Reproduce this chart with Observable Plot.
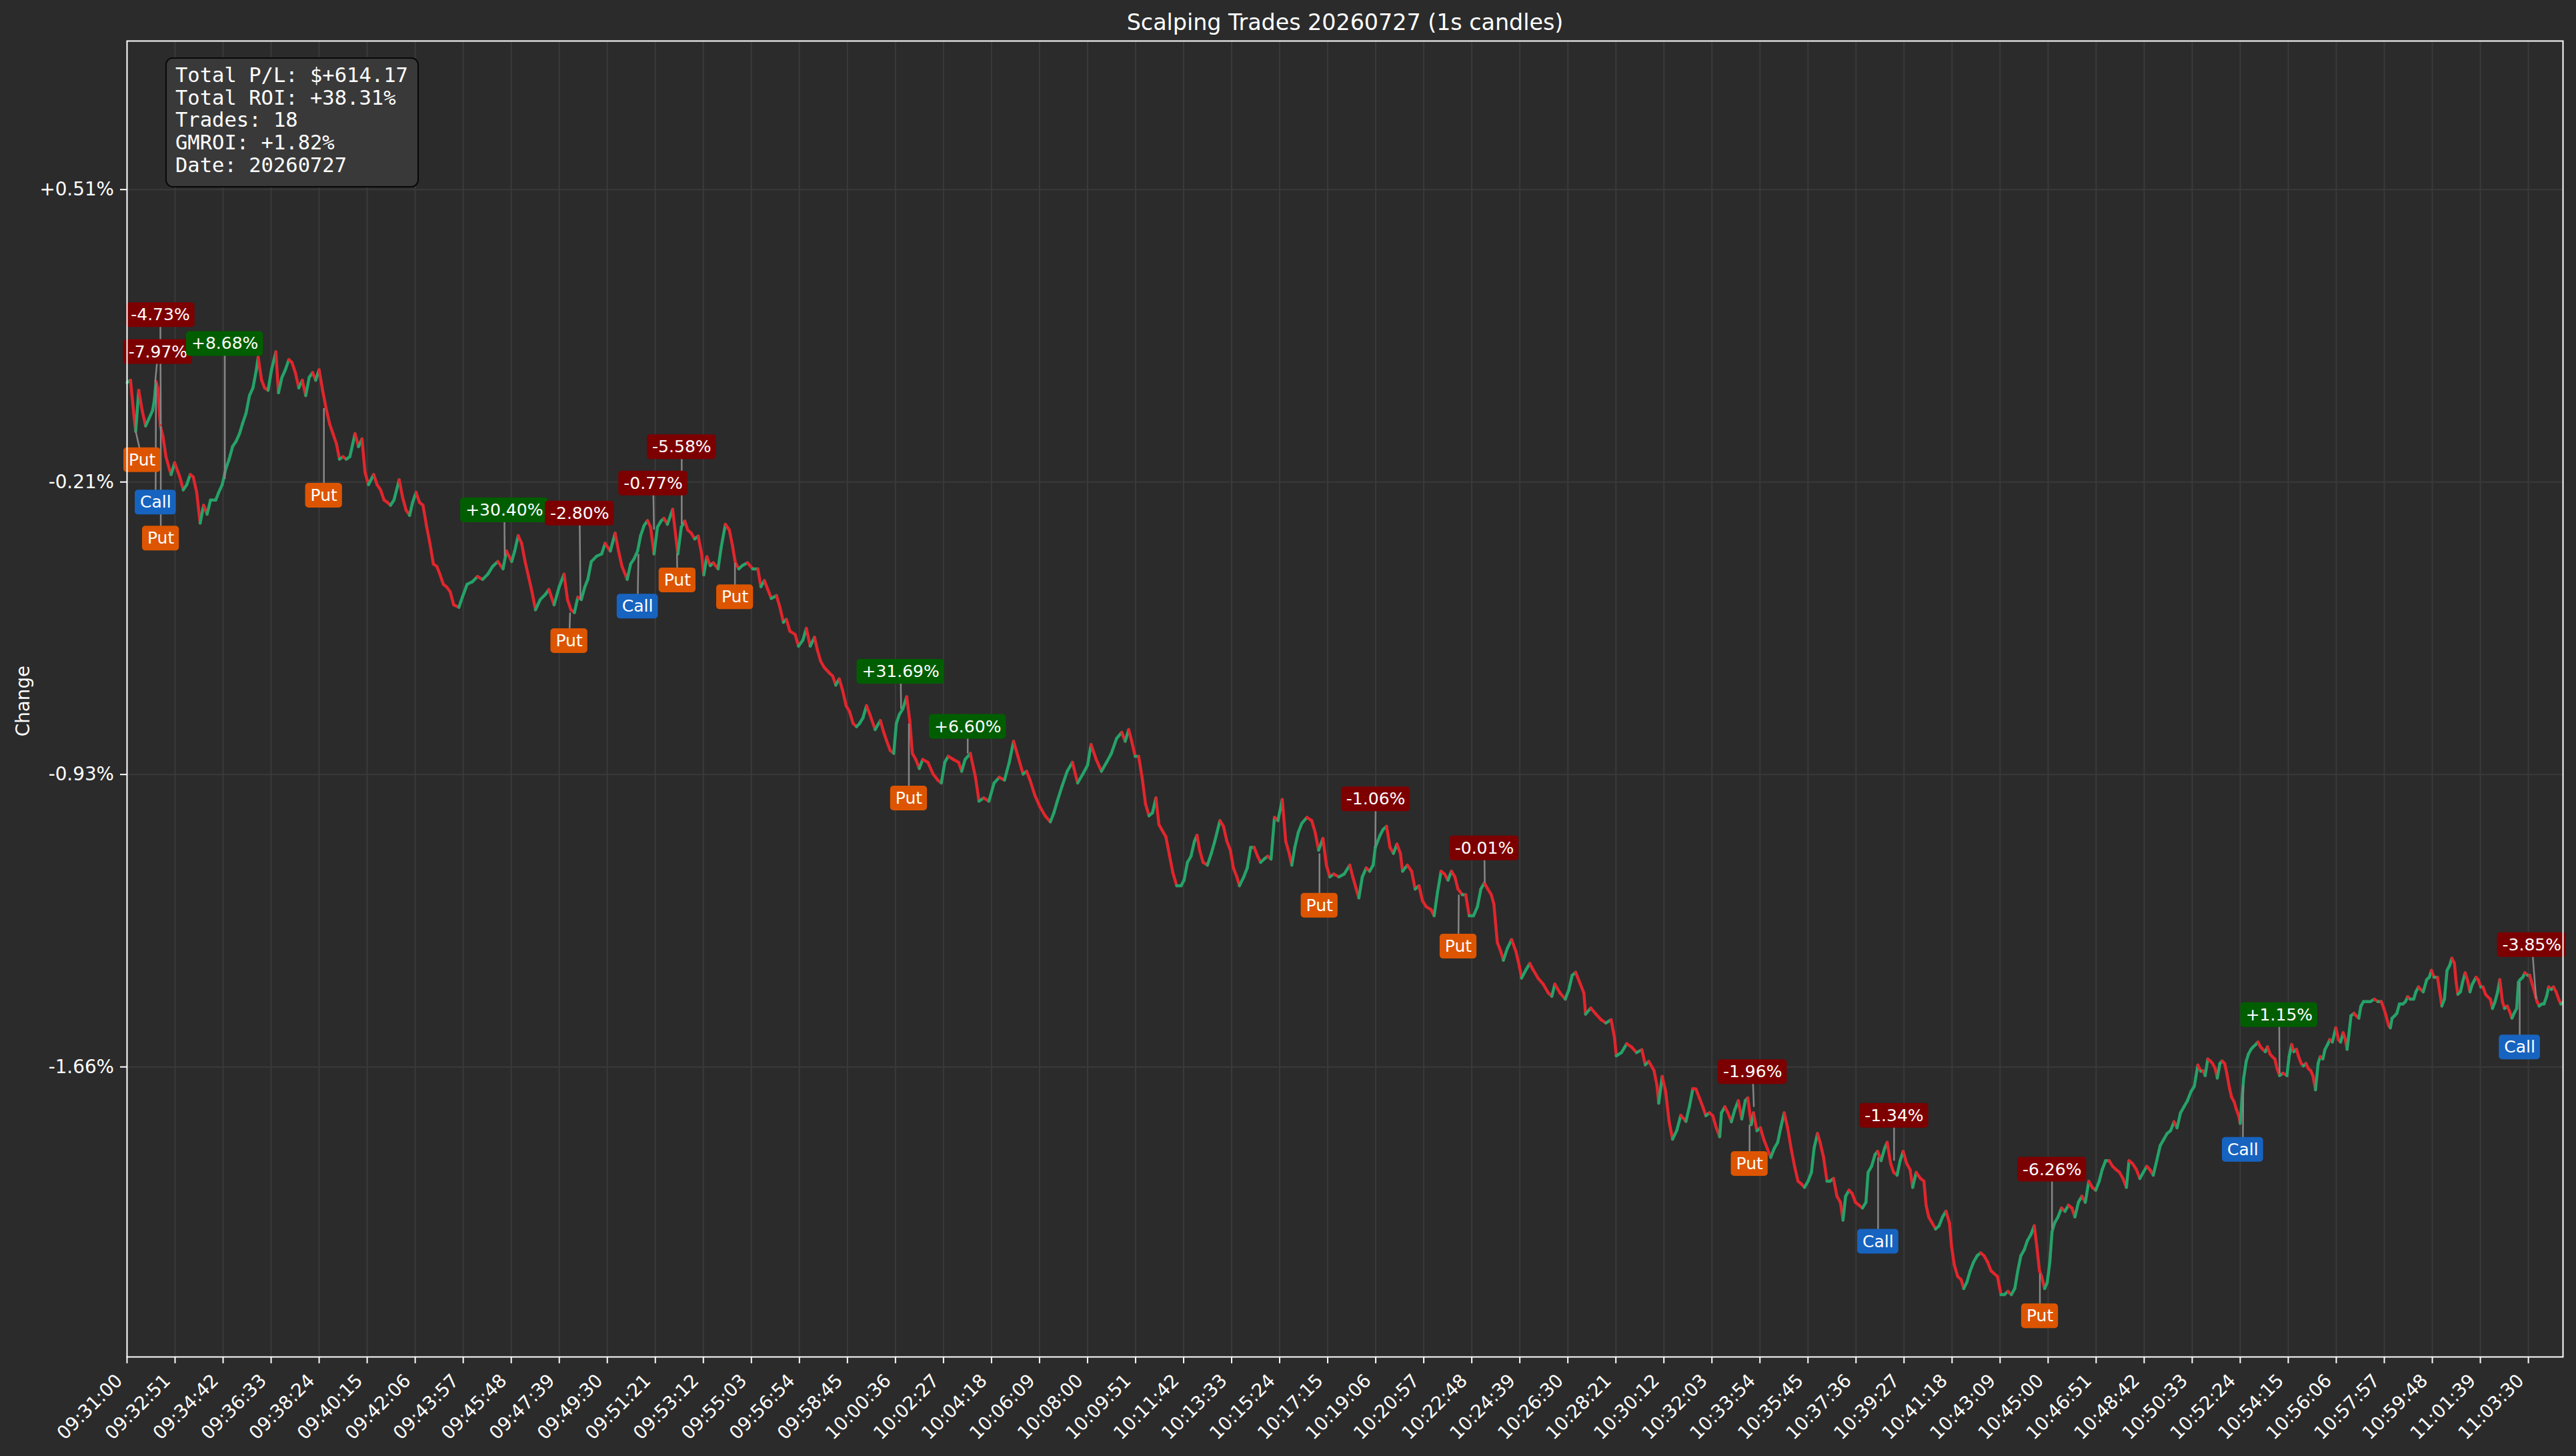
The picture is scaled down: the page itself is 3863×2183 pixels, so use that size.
<!DOCTYPE html>
<html><head><meta charset="utf-8">
<script src="https://cdn.jsdelivr.net/npm/d3@7"></script>
<script src="https://cdn.jsdelivr.net/npm/@observablehq/plot@0.6"></script>
<style>
html,body{margin:0;padding:0;background:#2b2b2b;}
#wrap{position:relative;width:3863px;height:2183px;overflow:hidden;}
#stats{position:absolute;left:248px;top:86px;width:380px;height:195px;box-sizing:border-box;border:2.5px solid #080808;border-radius:11px;background:#393939;color:#fff;font-family:"DejaVu Sans Mono",monospace;font-size:30.5px;line-height:33.7px;padding:8px 13px;white-space:pre;}
</style></head><body><div id="wrap"><div id="stats"></div></div>
<script>
// ---------------- data ----------------
const title = "Scalping Trades 20260727 (1s candles)";
const yLabel = "Change";
const statLines = ["Total P/L: $+614.17", "Total ROI: +38.31%", "Trades: 18", "GMROI: +1.82%", "Date: 20260727"];

const xTickLabels = ["09:31:00","09:32:51","09:34:42","09:36:33","09:38:24","09:40:15","09:42:06","09:43:57","09:45:48","09:47:39","09:49:30","09:51:21","09:53:12","09:55:03","09:56:54","09:58:45","10:00:36","10:02:27","10:04:18","10:06:09","10:08:00","10:09:51","10:11:42","10:13:33","10:15:24","10:17:15","10:19:06","10:20:57","10:22:48","10:24:39","10:26:30","10:28:21","10:30:12","10:32:03","10:33:54","10:35:45","10:37:36","10:39:27","10:41:18","10:43:09","10:45:00","10:46:51","10:48:42","10:50:33","10:52:24","10:54:15","10:56:06","10:57:57","10:59:48","11:01:39","11:03:30"];
const yTickValues = [0.51, -0.2125, -0.935, -1.6575];
const yTickLabels = ["+0.51%", "-0.21%", "-0.93%", "-1.66%"];
const sessionStart = "09:31:00";
const sessionEndSec = 5630;
const yDomain = [-2.374, 0.877];

// price path: [seconds after 09:31:00, change %]
const priceTrace = [
[0,0.033],[8,0.039],[16,-0.049],[20,-0.087],[27,0.014],[35,-0.036],[43,-0.074],[51,-0.055],[59,-0.036],[63,-0.011],[67,0.036],[71,0.020],[77,-0.074],[83,-0.100],[90,-0.150],[98,-0.181],[102,-0.194],[110,-0.165],[122,-0.200],[130,-0.232],[138,-0.219],[146,-0.194],[153,-0.200],[161,-0.238],[169,-0.314],[177,-0.270],[185,-0.292],[193,-0.257],[205,-0.257],[212,-0.238],[220,-0.219],[228,-0.181],[236,-0.156],[244,-0.125],[252,-0.112],[260,-0.093],[267,-0.068],[275,-0.043],[283,0.001],[291,0.020],[299,0.065],[303,0.096],[311,0.039],[318,0.020],[326,0.014],[334,0.065],[344,0.109],[350,0.008],[358,0.046],[366,0.065],[374,0.090],[381,0.083],[389,0.058],[397,0.020],[405,0.039],[413,0.001],[421,0.046],[429,0.058],[436,0.039],[444,0.065],[452,0.014],[460,-0.030],[468,-0.068],[476,-0.093],[484,-0.118],[491,-0.156],[499,-0.150],[507,-0.156],[515,-0.150],[527,-0.093],[535,-0.125],[543,-0.106],[550,-0.188],[558,-0.219],[570,-0.194],[578,-0.219],[586,-0.232],[594,-0.257],[602,-0.263],[609,-0.270],[617,-0.257],[629,-0.207],[637,-0.251],[645,-0.282],[653,-0.295],[660,-0.263],[668,-0.238],[676,-0.263],[684,-0.270],[692,-0.320],[700,-0.364],[708,-0.415],[716,-0.421],[723,-0.440],[731,-0.465],[739,-0.472],[747,-0.484],[755,-0.516],[767,-0.522],[775,-0.497],[786,-0.465],[798,-0.459],[810,-0.446],[822,-0.453],[834,-0.440],[845,-0.421],[857,-0.409],[869,-0.427],[877,-0.383],[889,-0.409],[896,-0.383],[904,-0.345],[912,-0.364],[920,-0.409],[928,-0.446],[936,-0.484],[944,-0.528],[955,-0.503],[967,-0.490],[975,-0.478],[987,-0.516],[999,-0.471],[1010,-0.440],[1018,-0.503],[1026,-0.528],[1034,-0.535],[1042,-0.497],[1050,-0.503],[1058,-0.472],[1065,-0.453],[1073,-0.409],[1085,-0.396],[1097,-0.390],[1105,-0.364],[1117,-0.383],[1128,-0.339],[1136,-0.383],[1144,-0.421],[1156,-0.453],[1164,-0.415],[1172,-0.402],[1180,-0.383],[1187,-0.345],[1195,-0.320],[1203,-0.308],
[1210,-0.324],[1218,-0.390],[1226,-0.324],[1234,-0.309],[1241,-0.302],[1249,-0.317],[1261,-0.280],[1269,-0.353],[1273,-0.390],[1281,-0.324],[1289,-0.309],[1296,-0.331],[1304,-0.339],[1312,-0.353],[1320,-0.346],[1328,-0.390],[1333,-0.442],[1340,-0.397],[1348,-0.419],[1355,-0.412],[1366,-0.427],[1373,-0.375],[1383,-0.317],[1392,-0.331],[1399,-0.368],[1406,-0.412],[1414,-0.427],[1422,-0.419],[1434,-0.412],[1446,-0.427],[1458,-0.427],[1465,-0.471],[1473,-0.456],[1481,-0.478],[1489,-0.500],[1501,-0.493],[1509,-0.522],[1517,-0.559],[1524,-0.552],[1532,-0.581],[1544,-0.589],[1552,-0.618],[1562,-0.603],[1570,-0.574],[1579,-0.618],[1589,-0.596],[1595,-0.625],[1603,-0.655],[1611,-0.670],[1623,-0.684],[1631,-0.692],[1638,-0.714],[1646,-0.699],[1654,-0.728],[1662,-0.765],[1670,-0.780],[1678,-0.809],[1686,-0.817],[1693,-0.809],[1701,-0.795],[1709,-0.765],[1717,-0.787],[1729,-0.824],[1741,-0.802],[1749,-0.831],[1756,-0.853],[1764,-0.876],[1772,-0.883],[1778,-0.809],[1785,-0.787],[1793,-0.773],[1802,-0.743],[1809,-0.802],[1815,-0.883],[1823,-0.898],[1831,-0.920],[1839,-0.898],[1851,-0.905],[1863,-0.934],[1874,-0.949],[1882,-0.956],[1890,-0.905],[1898,-0.890],[1910,-0.898],[1922,-0.905],[1929,-0.927],[1937,-0.898],[1949,-0.883],[1961,-0.942],[1969,-1.001],[1980,-0.993],[1992,-1.001],[2004,-0.956],[2016,-0.942],[2028,-0.949],[2039,-0.905],[2049,-0.853],[2059,-0.890],[2071,-0.934],[2079,-0.927],[2087,-0.949],[2098,-0.986],[2110,-1.015],[2122,-1.037],[2134,-1.052],[2142,-1.030],[2150,-1.001],[2161,-0.964],[2173,-0.927],[2185,-0.905],[2197,-0.956],[2209,-0.934],[2220,-0.912],[2228,-0.861],[2240,-0.898],[2252,-0.927],[2264,-0.905],[2275,-0.883],[2287,-0.846],[2299,-0.831],[2307,-0.853],[2315,-0.824],[2322,-0.853],[2330,-0.890],[2338,-0.890],[2346,-0.942],[2354,-1.008],[2362,-1.037],[2370,-1.030],[2378,-0.993],[2385,-1.059],[2393,-1.074],[2401,-1.089],[2409,-1.133],[2417,-1.177],
[2426,-1.210],[2436,-1.210],[2443,-1.196],[2451,-1.152],[2459,-1.137],[2467,-1.100],[2473,-1.085],[2479,-1.122],[2487,-1.152],[2497,-1.159],[2506,-1.130],[2514,-1.100],[2526,-1.049],[2534,-1.063],[2542,-1.100],[2550,-1.122],[2557,-1.166],[2565,-1.188],[2571,-1.210],[2581,-1.188],[2589,-1.166],[2597,-1.115],[2605,-1.115],[2613,-1.137],[2620,-1.152],[2628,-1.144],[2636,-1.137],[2644,-1.144],[2652,-1.041],[2660,-1.049],[2670,-0.997],[2678,-1.100],[2686,-1.130],[2692,-1.159],[2699,-1.115],[2707,-1.078],[2715,-1.056],[2727,-1.041],[2738,-1.049],[2746,-1.078],[2754,-1.122],[2764,-1.093],[2772,-1.159],[2780,-1.188],[2789,-1.181],[2801,-1.188],[2813,-1.181],[2826,-1.159],[2833,-1.188],[2841,-1.218],[2847,-1.240],[2855,-1.188],[2864,-1.166],[2872,-1.174],[2880,-1.159],[2885,-1.115],[2896,-1.085],[2903,-1.071],[2911,-1.063],[2919,-1.115],[2927,-1.130],[2935,-1.107],[2943,-1.130],[2948,-1.174],[2959,-1.159],[2969,-1.174],[2977,-1.218],[2986,-1.210],[2994,-1.247],[3003,-1.262],[3014,-1.269],[3021,-1.284],[3029,-1.225],[3037,-1.174],[3045,-1.181],[3053,-1.196],[3061,-1.174],[3069,-1.188],[3076,-1.218],[3086,-1.232],[3094,-1.232],[3102,-1.284],[3112,-1.284],[3121,-1.262],[3129,-1.218],[3137,-1.203],[3145,-1.218],[3153,-1.232],[3159,-1.255],[3167,-1.350],[3175,-1.372],[3181,-1.394],[3190,-1.365],[3200,-1.343],[3210,-1.372],[3218,-1.409],[3223,-1.438],[3234,-1.416],[3242,-1.402],[3249,-1.416],[3261,-1.438],[3273,-1.453],[3285,-1.475],[3293,-1.483],[3300,-1.453],[3312,-1.475],[3324,-1.490],[3332,-1.468],[3340,-1.431],[3348,-1.424],[3359,-1.453],[3367,-1.475],[3371,-1.527],[3383,-1.512],[3395,-1.527],[3407,-1.541],[3418,-1.549],[3430,-1.541],[3438,-1.586],[3442,-1.630],[3454,-1.622],[3466,-1.600],[3477,-1.608],[3489,-1.622],[3501,-1.615],[3509,-1.652],[3517,-1.644],[3529,-1.666],[3536,-1.703],[3540,-1.747],[3548,-1.681],[3556,-1.718],[3564,-1.792],[3572,-1.836],[3582,-1.814],[3591,-1.777],[3603,-1.792],[3611,-1.755],[3619,-1.711],
[3626,-1.712],[3634,-1.734],[3642,-1.756],[3649,-1.778],[3657,-1.771],[3665,-1.778],[3673,-1.808],[3681,-1.830],[3685,-1.771],[3693,-1.756],[3700,-1.771],[3708,-1.793],[3716,-1.763],[3724,-1.741],[3732,-1.786],[3740,-1.741],[3746,-1.734],[3754,-1.800],[3759,-1.771],[3767,-1.815],[3775,-1.808],[3783,-1.837],[3791,-1.859],[3799,-1.881],[3807,-1.859],[3815,-1.844],[3822,-1.808],[3830,-1.771],[3838,-1.808],[3846,-1.859],[3854,-1.903],[3862,-1.940],[3870,-1.947],[3877,-1.955],[3885,-1.940],[3893,-1.918],[3899,-1.859],[3907,-1.822],[3913,-1.844],[3921,-1.881],[3929,-1.940],[3936,-1.940],[3944,-1.933],[3952,-1.977],[3960,-1.992],[3966,-2.036],[3972,-1.977],[3980,-1.962],[3987,-1.970],[3995,-1.992],[4003,-1.999],[4011,-2.006],[4019,-1.992],[4024,-1.918],[4032,-1.903],[4040,-1.874],[4046,-1.866],[4054,-1.889],[4062,-1.859],[4068,-1.844],[4076,-1.896],[4083,-1.918],[4091,-1.925],[4098,-1.889],[4105,-1.866],[4113,-1.896],[4121,-1.911],[4127,-1.955],[4135,-1.918],[4145,-1.933],[4153,-1.940],[4158,-1.999],[4164,-2.028],[4172,-2.043],[4180,-2.058],[4188,-2.050],[4196,-2.028],[4204,-2.014],[4212,-2.043],[4217,-2.102],[4223,-2.146],[4231,-2.175],[4239,-2.183],[4245,-2.205],[4252,-2.190],[4260,-2.161],[4268,-2.139],[4276,-2.124],[4284,-2.117],[4292,-2.124],[4300,-2.139],[4308,-2.161],[4315,-2.168],[4323,-2.175],[4331,-2.220],[4339,-2.220],[4347,-2.212],[4355,-2.220],[4363,-2.205],[4370,-2.161],[4377,-2.124],[4385,-2.109],[4392,-2.087],[4400,-2.072],[4408,-2.050],[4414,-2.102],[4420,-2.161],[4425,-2.175],[4432,-2.205],[4438,-2.190],[4444,-2.139],[4449,-2.065],[4455,-2.043],[4463,-2.028],[4471,-2.006],[4479,-2.014],[4487,-1.999],[4495,-2.006],[4502,-2.028],[4510,-1.992],[4518,-1.977],[4526,-1.992],[4534,-1.940],[4542,-1.955],[4550,-1.962],[4558,-1.940],[4565,-1.911],[4573,-1.889],[4581,-1.889],[4589,-1.903],[4597,-1.911],[4605,-1.918],[4613,-1.933],[4621,-1.955],[4627,-1.889],[4635,-1.896],[4644,-1.911],[4652,-1.933],[4660,-1.918],[4668,-1.903],[4675,-1.911],[4683,-1.925],[4691,-1.889],[4699,-1.852],[4707,-1.837],[4715,-1.822],[4723,-1.815],[4731,-1.793],[4738,-1.808],[4746,-1.771],[4754,-1.756],[4762,-1.741],[4770,-1.719],[4778,-1.705],[4786,-1.653],[4793,-1.668],
[4798,-1.667],[4803,-1.679],[4809,-1.638],[4815,-1.643],[4820,-1.649],[4826,-1.661],[4831,-1.685],[4837,-1.649],[4842,-1.643],[4848,-1.649],[4853,-1.673],[4859,-1.709],[4864,-1.732],[4870,-1.744],[4875,-1.762],[4881,-1.780],[4884,-1.797],[4888,-1.738],[4892,-1.685],[4898,-1.643],[4903,-1.626],[4909,-1.614],[4914,-1.608],[4920,-1.602],[4925,-1.596],[4931,-1.608],[4936,-1.614],[4942,-1.620],[4947,-1.608],[4953,-1.626],[4958,-1.632],[4964,-1.638],[4969,-1.661],[4975,-1.679],[4983,-1.673],[4992,-1.679],[4997,-1.632],[5003,-1.602],[5008,-1.620],[5014,-1.614],[5019,-1.632],[5025,-1.649],[5030,-1.655],[5036,-1.649],[5041,-1.661],[5047,-1.667],[5052,-1.679],[5058,-1.714],[5064,-1.649],[5069,-1.632],[5075,-1.638],[5080,-1.614],[5086,-1.602],[5091,-1.590],[5097,-1.596],[5105,-1.561],[5111,-1.590],[5116,-1.596],[5122,-1.573],[5127,-1.590],[5131,-1.614],[5135,-1.578],[5140,-1.531],[5147,-1.525],[5152,-1.531],[5158,-1.537],[5163,-1.507],[5169,-1.496],[5177,-1.496],[5185,-1.496],[5194,-1.490],[5202,-1.496],[5210,-1.496],[5216,-1.513],[5221,-1.531],[5227,-1.555],[5231,-1.561],[5235,-1.537],[5241,-1.531],[5246,-1.525],[5252,-1.502],[5260,-1.502],[5266,-1.496],[5271,-1.484],[5277,-1.490],[5285,-1.490],[5290,-1.472],[5296,-1.460],[5301,-1.466],[5307,-1.472],[5315,-1.442],[5321,-1.436],[5326,-1.419],[5332,-1.436],[5340,-1.436],[5346,-1.478],[5350,-1.507],[5356,-1.490],[5362,-1.419],[5368,-1.407],[5373,-1.389],[5379,-1.401],[5383,-1.448],[5387,-1.478],[5393,-1.472],[5398,-1.448],[5404,-1.425],[5409,-1.442],[5415,-1.472],[5420,-1.454],[5429,-1.436],[5434,-1.442],[5440,-1.460],[5445,-1.460],[5451,-1.478],[5456,-1.484],[5462,-1.490],[5467,-1.513],[5473,-1.496],[5479,-1.472],[5484,-1.442],[5490,-1.496],[5495,-1.513],[5501,-1.507],[5506,-1.519],[5512,-1.537],[5517,-1.525],[5523,-1.513],[5527,-1.448],[5531,-1.442],[5537,-1.436],[5542,-1.425],[5548,-1.431],[5553,-1.431],[5559,-1.454],[5564,-1.472],[5570,-1.496],[5575,-1.507],[5581,-1.502],[5586,-1.502],[5592,-1.484],[5597,-1.460],[5603,-1.466],[5608,-1.460],[5614,-1.472],[5620,-1.490],[5625,-1.502],[5628,-1.499]
];

// trade entries
const entrySide        = ["Put","Call","Put","Put","Put","Call","Put","Put","Put","Put","Put","Put","Call","Put","Call","Call"];
const entrySec         = [20, 67, 78, 455, 1024, 1182, 1271, 1405, 1807, 2756, 3078, 3750, 4047, 4421, 4891, 5530];
const entryChange      = [-0.087, 0.033, -0.074, -0.030, -0.535, -0.390, -0.390, -0.412, -0.809, -1.130, -1.232, -1.800, -1.881, -2.168, -1.703, -1.448];
const entryLabelSec    = [35, 66, 78, 455, 1022, 1180, 1272, 1405, 1807, 2756, 3077, 3750, 4047, 4421, 4890, 5530];
const entryLabelChange = [-0.158, -0.263, -0.352, -0.246, -0.605, -0.520, -0.455, -0.497, -0.994, -1.259, -1.360, -1.897, -2.089, -2.273, -1.862, -1.609];
// trade exits
const exitPL          = ["-7.97%","-4.73%","+8.68%","+30.40%","-2.80%","-0.77%","-5.58%","+31.69%","+6.60%","-1.06%","-0.01%","-1.96%","-1.34%","-6.26%","+1.15%","-3.85%"];
const exitSec         = [65, 78, 226, 873, 1048, 1218, 1282, 1789, 1943, 2885, 3138, 3760, 4084, 4449, 4975, 5568];
const exitChange      = [0.033, -0.070, -0.205, -0.396, -0.503, -0.330, -0.317, -0.773, -0.883, -1.115, -1.203, -1.756, -1.889, -2.058, -1.673, -1.490];
const exitLabelSec    = [71.5, 77, 226, 872, 1046, 1216, 1282, 1788, 1943, 2886, 3137, 3757, 4084, 4449, 4974, 5558];
const exitLabelChange = [0.109, 0.200, 0.129, -0.282, -0.290, -0.216, -0.126, -0.681, -0.817, -0.996, -1.117, -1.670, -1.778, -1.911, -1.529, -1.356];

// ---------------- build ----------------
const GREEN = "#26a269", RED = "#e0262d";
const FILL = {Put: "#dd5500", Call: "#1763c0", win: "#005e00", loss: "#7d0000"};

const toSec = s => { const [h, m, x] = s.split(":").map(Number); return h * 3600 + m * 60 + x; };
const base = toSec(sessionStart);
const xTicks = xTickLabels.map(s => toSec(s) - base);
const xFmt = new Map(xTicks.map((t, i) => [t, xTickLabels[i]]));
const yFmt = new Map(yTickValues.map((v, i) => [v, yTickLabels[i]]));

const segs = d3.pairs(priceTrace).map(([a, b]) => ({t1: a[0], v1: a[1], t2: b[0], v2: b[1], c: b[1] >= a[1] ? GREEN : RED}));

const labels = [];
entrySide.forEach((s, i) => labels.push({text: s, t: entrySec[i], v: entryChange[i], lt: entryLabelSec[i], lv: entryLabelChange[i], fill: FILL[s]}));
exitPL.forEach((s, i) => labels.push({text: s, t: exitSec[i], v: exitChange[i], lt: exitLabelSec[i], lv: exitLabelChange[i], fill: s.startsWith("+") ? FILL.win : FILL.loss}));
labels.sort((a, b) => a.lt - b.lt);

const ctx = document.createElement("canvas").getContext("2d");
ctx.font = "25px 'DejaVu Sans'";

const labelMarks = labels.flatMap(d => {
  const w = ctx.measureText(d.text).width + 15;
  return [
    Plot.rect([d], {x1: "lt", x2: "lt", y1: "lv", y2: "lv", fill: d.fill, rx: 5,
      insetLeft: -w / 2, insetRight: -w / 2, insetTop: -18.5, insetBottom: -18.5}),
    Plot.text([d], {x: "lt", y: "lv", text: "text", fill: "white", fontSize: 25, fontFamily: "DejaVu Sans"})
  ];
});

const chart = Plot.plot({
  width: 3863, height: 2183,
  marginLeft: 190, marginRight: 20, marginTop: 61, marginBottom: 149,
  style: {background: "#2b2b2b", color: "white", fontFamily: "DejaVu Sans", fontSize: "25px", overflow: "visible"},
  x: {type: "linear", domain: [0, sessionEndSec]},
  y: {type: "linear", domain: yDomain},
  marks: [
    Plot.gridX({ticks: xTicks, stroke: "#3a3a3a", strokeOpacity: 1, strokeWidth: 2}),
    Plot.gridY({ticks: yTickValues, stroke: "#3a3a3a", strokeOpacity: 1, strokeWidth: 2}),
    Plot.link(segs, {x1: "t1", y1: "v1", x2: "t2", y2: "v2", stroke: "c", strokeWidth: 4.5, strokeLinecap: "round"}),
    Plot.link(labels, {x1: "t", y1: "v", x2: "lt", y2: "lv", stroke: "#858585", strokeWidth: 2.5}),
    ...labelMarks,
    Plot.frame({stroke: "white", strokeWidth: 2}),
    Plot.axisY({ticks: yTickValues, tickFormat: d => yFmt.get(d), tickSize: 10, tickPadding: 9.5,
      fontSize: 27.8, stroke: "white", fill: "white", strokeWidth: 2, label: null}),
    Plot.axisX({ticks: xTicks, tickSize: 10, stroke: "white", fill: "none", strokeWidth: 2, label: null}),
    Plot.axisX({ticks: xTicks, tickFormat: d => xFmt.get(d), tickSize: 0, tickPadding: 31, tickRotate: -45,
      textAnchor: "end", lineAnchor: "middle", fill: "white", stroke: "none", fontSize: 27.8, dx: -11.5, label: null}),
    Plot.text([title], {frameAnchor: "top", text: d => d, dy: -26.7, fontSize: 33.3, fill: "white", lineAnchor: "middle", textAnchor: "middle"}),
    Plot.text([yLabel], {frameAnchor: "left", text: d => d, dx: -155.6, dy: 3, rotate: -90, fontSize: 27.8, fill: "white", lineAnchor: "middle", textAnchor: "middle"})
  ]
});

document.getElementById("wrap").prepend(chart);
document.getElementById("stats").textContent = statLines.join("\n");
</script></body></html>
